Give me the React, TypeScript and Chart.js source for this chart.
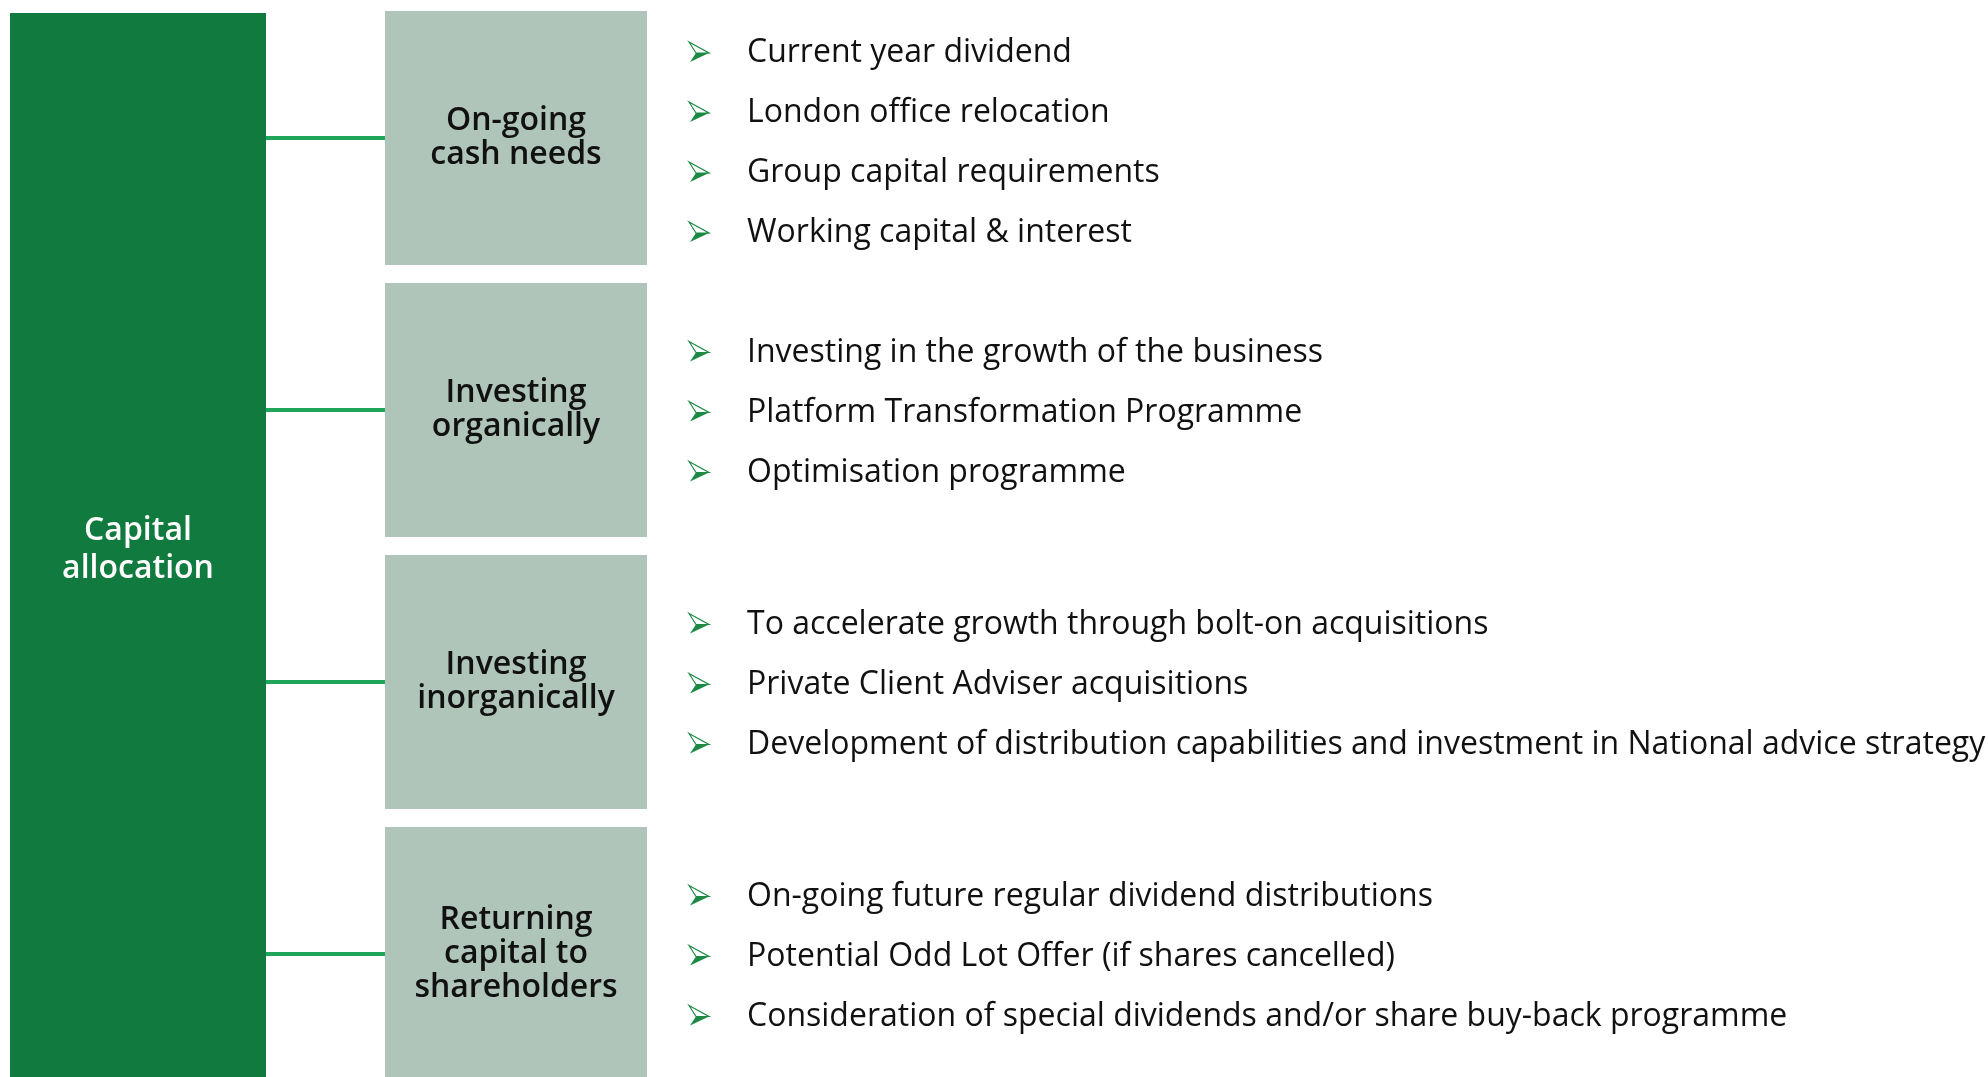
import React, { useEffect, useRef } from "react";
import { Chart, registerables } from "chart.js";

Chart.register(...registerables);

// ---- content ----
const centerLabel = ["Capital", "allocation"];
const groupKeys = [
  "On-going cash needs",
  "Investing organically",
  "Investing inorganically",
  "Returning capital to shareholders",
];
const groupLines = [
  ["On-going", "cash needs"],
  ["Investing", "organically"],
  ["Investing", "inorganically"],
  ["Returning", "capital to", "shareholders"],
];
const itemsCash = [
  "Current year dividend",
  "London office relocation",
  "Group capital requirements",
  "Working capital & interest",
];
const itemsOrganic = [
  "Investing in the growth of the business",
  "Platform Transformation Programme",
  "Optimisation programme",
];
const itemsInorganic = [
  "To accelerate growth through bolt-on acquisitions",
  "Private Client Adviser acquisitions",
  "Development of distribution capabilities and investment in National advice strategy",
];
const itemsReturn = [
  "On-going future regular dividend distributions",
  "Potential Odd Lot Offer (if shares cancelled)",
  "Consideration of special dividends and/or share buy-back programme",
];
const groupItems = [itemsCash, itemsOrganic, itemsInorganic, itemsReturn];

// ---- layout (x units = canvas px) ----
const LAYOUT = {
  width: 1988,
  viewH: 1077,
  canvasH: 1092,
  padTop: 2,
  padBottom: 2,
  greenX: [10, 266] as [number, number],
  grayX: [385, 647] as [number, number],
  grayPct: 254 / 272,
  greenPct: 0.98,
  arrowX: 689,
  textX: 747,
  itemGap: 60,
  itemShift: [4, 1.5, 1.5, 1.5],
  boxLineH: 34,
  centerLineH: 38,
  centerShift: 4,
};

const COLORS = {
  green: "#117b3f",
  gray: "#afc5b9",
  connector: "#1fa65a",
  text: "#111111",
  arrowDark: "#1c8a44",
};

function drawArrow(ctx: CanvasRenderingContext2D, x: number, y: number) {
  const tip = [x + 20, y + 1];
  const top = [x, y - 10];
  const bot = [x + 1, y + 10];
  const notch = [x + 7, y + 1];
  ctx.save();
  ctx.beginPath();
  ctx.moveTo(top[0], top[1]);
  ctx.lineTo(tip[0], tip[1]);
  ctx.lineTo(notch[0], notch[1]);
  ctx.closePath();
  ctx.fillStyle = "#ffffff";
  ctx.fill();
  ctx.strokeStyle = COLORS.arrowDark;
  ctx.lineWidth = 1.2;
  ctx.stroke();
  ctx.beginPath();
  ctx.moveTo(notch[0], notch[1]);
  ctx.lineTo(tip[0], tip[1]);
  ctx.lineTo(bot[0], bot[1]);
  ctx.closePath();
  ctx.fillStyle = COLORS.arrowDark;
  ctx.fill();
  ctx.restore();
}

const diagramPlugin = {
  id: "diagram",
  afterDatasetsDraw(chart: any) {
    const ctx: CanvasRenderingContext2D = chart.ctx;
    const xs = chart.scales.x;
    const ys = chart.scales.y;
    const y2 = chart.scales.y2;
    ctx.save();
    ctx.strokeStyle = COLORS.connector;
    ctx.lineWidth = 4;
    groupKeys.forEach((_, i) => {
      const y = ys.getPixelForValue(i);
      ctx.beginPath();
      ctx.moveTo(xs.getPixelForValue(LAYOUT.greenX[1]), y);
      ctx.lineTo(xs.getPixelForValue(LAYOUT.grayX[0]), y);
      ctx.stroke();
    });
    ctx.fillStyle = "#ffffff";
    ctx.font = "600 32px 'Open Sans'";
    ctx.textAlign = "center";
    ctx.textBaseline = "middle";
    const cx = xs.getPixelForValue((LAYOUT.greenX[0] + LAYOUT.greenX[1]) / 2);
    const cy = y2.getPixelForValue(0) + LAYOUT.centerShift;
    centerLabel.forEach((t, k) => {
      ctx.fillText(t, cx, cy + (k - (centerLabel.length - 1) / 2) * LAYOUT.centerLineH);
    });
    ctx.fillStyle = COLORS.text;
    ctx.font = "600 32px 'Open Sans'";
    const gx = xs.getPixelForValue((LAYOUT.grayX[0] + LAYOUT.grayX[1]) / 2);
    groupLines.forEach((lines, i) => {
      const y = ys.getPixelForValue(i) - 0.5;
      lines.forEach((t, k) => {
        ctx.fillText(t, gx, y + (k - (lines.length - 1) / 2) * LAYOUT.boxLineH);
      });
    });
    ctx.textAlign = "left";
    ctx.font = "400 32px 'Open Sans'";
    groupItems.forEach((items, i) => {
      const y = ys.getPixelForValue(i) + LAYOUT.itemShift[i];
      items.forEach((t, k) => {
        const yy = y + (k - (items.length - 1) / 2) * LAYOUT.itemGap;
        drawArrow(ctx, xs.getPixelForValue(LAYOUT.arrowX), yy);
        ctx.fillStyle = COLORS.text;
        ctx.fillText(t, xs.getPixelForValue(LAYOUT.textX), yy + 1);
      });
    });
    ctx.restore();
  },
};

export default function App() {
  const ref = useRef<HTMLCanvasElement | null>(null);
  useEffect(() => {
    document.body.style.margin = "0";
    if (!ref.current) return;
    const chart = new Chart(ref.current, {
      type: "bar",
      data: {
        labels: groupKeys,
        datasets: [
          {
            label: "Allocation areas",
            data: groupKeys.map(() => LAYOUT.grayX),
            backgroundColor: COLORS.gray,
            yAxisID: "y",
            grouped: false,
            barPercentage: 1,
            categoryPercentage: LAYOUT.grayPct,
            borderWidth: 0,
          } as any,
          {
            label: centerLabel.join(" "),
            data: [LAYOUT.greenX],
            backgroundColor: COLORS.green,
            yAxisID: "y2",
            grouped: false,
            barPercentage: 1,
            categoryPercentage: LAYOUT.greenPct,
            borderWidth: 0,
          } as any,
        ],
      },
      options: {
        indexAxis: "y",
        animation: false,
        responsive: false,
        devicePixelRatio: 1,
        layout: { padding: { top: LAYOUT.padTop, bottom: LAYOUT.padBottom, left: 0, right: 0 } },
        plugins: { legend: { display: false }, tooltip: { enabled: false } },
        events: [],
        scales: {
          x: { type: "linear", min: 0, max: LAYOUT.width, display: false },
          y: { type: "category", labels: groupKeys, display: false, offset: true },
          y2: { type: "category", labels: [centerLabel.join(" ")], display: false, offset: true },
        },
      } as any,
      plugins: [diagramPlugin],
    });
    return () => chart.destroy();
  }, []);
  return (
    <div
      style={{
        position: "fixed",
        left: 0,
        top: 0,
        width: LAYOUT.width,
        height: LAYOUT.viewH,
        overflow: "hidden",
        background: "#ffffff",
      }}
    >
      <canvas ref={ref} width={LAYOUT.width} height={LAYOUT.canvasH} style={{ display: "block" }} />
    </div>
  );
}
